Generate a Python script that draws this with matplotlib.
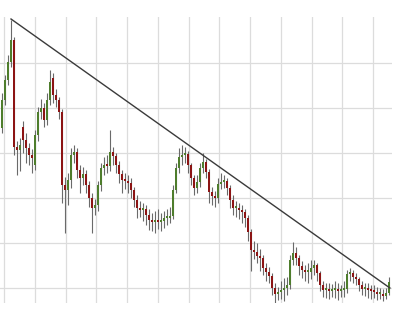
import numpy as np
import matplotlib
matplotlib.use('Agg')
from matplotlib import pyplot as plt

# price data (one value per bar)
opens = [205, 233, 253, 271, 293, 186, 183, 206, 193, 185,
         178, 168, 198, 221, 225, 213, 233, 255, 238, 233,
         221, 148, 143, 153, 178, 181, 163, 155, 159, 148,
         135, 125, 128, 148, 165, 168, 167, 181, 177, 168,
         159, 153, 152, 150, 143, 133, 125, 123, 124, 118,
         113, 111, 112, 111, 112, 115, 115, 117, 143, 165,
         176, 178, 179, 168, 155, 145, 151, 165, 171, 161,
         141, 137, 135, 149, 151, 152, 145, 133, 125, 125,
         123, 121, 115, 101, 83, 81, 77, 75, 65, 61,
         57, 45, 39, 41, 43, 45, 48, 73, 80, 75,
         67, 63, 61, 61, 65, 68, 60, 48, 43, 43,
         42, 43, 43, 42, 43, 44, 59, 60, 56, 54,
         48, 44, 44, 43, 42, 41, 39, 39, 37, 40]
closes = [233, 253, 271, 293, 186, 183, 188, 193, 185, 178,
          175, 198, 221, 225, 213, 233, 251, 238, 233, 221,
          148, 143, 153, 178, 181, 163, 155, 159, 148, 135,
          125, 128, 148, 165, 168, 167, 181, 177, 168, 159,
          153, 152, 150, 143, 133, 125, 123, 124, 118, 113,
          111, 112, 111, 112, 115, 115, 117, 143, 165, 176,
          178, 179, 168, 155, 145, 151, 165, 171, 161, 141,
          137, 135, 149, 151, 152, 145, 133, 125, 125, 123,
          121, 115, 101, 83, 81, 77, 75, 65, 61, 57,
          45, 39, 41, 43, 45, 48, 73, 80, 75, 67,
          63, 61, 61, 65, 68, 60, 48, 43, 43, 42,
          43, 43, 42, 43, 44, 59, 60, 56, 54, 48,
          44, 44, 43, 42, 41, 39, 39, 37, 40, 51]
highs = [240, 258, 278, 313, 296, 192, 195, 212, 200, 190,
         184, 203, 226, 234, 230, 240, 263, 260, 244, 236,
         224, 156, 160, 185, 188, 185, 168, 166, 163, 152,
         140, 134, 152, 170, 176, 178, 203, 186, 180, 172,
         163, 160, 158, 155, 146, 138, 132, 130, 128, 124,
         120, 122, 124, 120, 122, 124, 126, 148, 170, 185,
         188, 186, 182, 170, 158, 158, 170, 180, 174, 164,
         146, 142, 155, 160, 158, 155, 148, 138, 132, 130,
         128, 124, 118, 104, 92, 90, 84, 78, 70, 66,
         60, 50, 46, 52, 55, 56, 78, 91, 86, 78,
         72, 68, 70, 73, 73, 70, 62, 52, 50, 50,
         49, 52, 50, 48, 52, 63, 65, 63, 60, 56,
         52, 50, 50, 48, 48, 46, 45, 44, 45, 56]
lows = [200, 228, 248, 266, 178, 158, 162, 180, 170, 168,
        160, 163, 192, 214, 206, 208, 228, 230, 226, 214,
        130, 100, 128, 145, 170, 155, 140, 148, 140, 126,
        100, 118, 122, 142, 158, 160, 162, 168, 160, 150,
        140, 144, 140, 135, 126, 115, 116, 112, 108, 103,
        102, 100, 104, 102, 105, 108, 110, 114, 140, 160,
        168, 170, 160, 148, 138, 140, 146, 160, 155, 130,
        128, 126, 130, 144, 145, 138, 125, 118, 116, 114,
        110, 106, 92, 62, 74, 70, 62, 58, 52, 50,
        38, 30, 33, 34, 32, 38, 44, 68, 68, 58,
        55, 52, 50, 54, 58, 52, 42, 36, 35, 34,
        36, 35, 33, 36, 36, 40, 52, 50, 48, 42,
        38, 37, 35, 34, 35, 33, 34, 32, 34, 38]

# resistance line drawn on the chart
trend_x = [3, 129.3]
trend_y = [314, 45]

o = np.array(opens)
c = np.array(closes)
h = np.array(highs)
l = np.array(lows)
x = np.arange(len(c))

fig = plt.figure(figsize=(4, 3.33), dpi=100)
ax = fig.add_axes([0, 30 / 333, 392 / 400, 286 / 333])

up = c >= o
colors = np.where(up, '#4e7d2c', '#8c1414')

ax.vlines(x, l, h, color='#6a6a6a', lw=0.8, zorder=2)
ax.bar(x, np.maximum(np.abs(c - o), 2), bottom=np.minimum(o, c),
       width=0.72, color=colors, edgecolor='none', zorder=3)

ax.plot(trend_x, trend_y, color='#3a3a3a', lw=1.0, zorder=4)

ax.set_xlim(-0.67, 130)
ax.set_ylim(30, 316)
ax.set_xticks(np.arange(0.67, 130, 10.25))
ax.set_yticks(np.arange(45, 300, 45))
ax.grid(True, color='#dcdcdc', lw=0.9)
ax.set_axisbelow(True)
ax.tick_params(left=False, bottom=False, labelleft=False, labelbottom=False)
for s in ax.spines.values():
    s.set_visible(False)

fig.savefig('out.png', dpi=100)
